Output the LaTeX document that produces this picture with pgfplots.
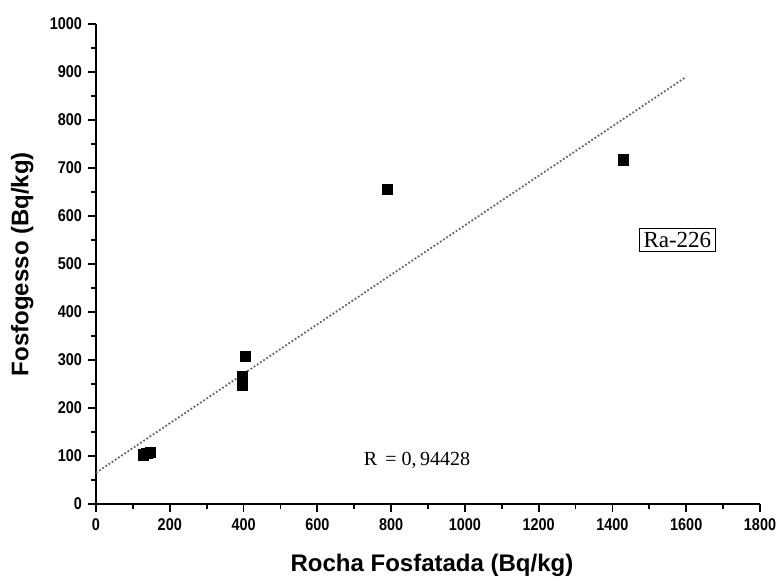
\documentclass[border=0pt]{standalone}
\usepackage{pgfplots}
\pgfplotsset{compat=1.18}
\usepackage{fontspec}
\setmainfont{Liberation Sans}
\newfontfamily\seriffont{Liberation Serif}

\begin{document}
\begin{tikzpicture}
\begin{axis}[
  width=332pt, height=240pt, scale only axis,
  xmin=0, xmax=1800, ymin=0, ymax=1000,
  axis lines=left,
  axis line style={-, line width=1.1pt},
  xtick={0,200,...,1800},
  ytick={0,100,...,1000},
  minor tick num=1,
  tick align=outside,
  major tick length=4pt, minor tick length=2.5pt,
  tick style={line width=0.9pt, black},
  tick label style={font=\fontsize{8.5}{9}\selectfont\bfseries, xscale=0.85},
  /pgf/number format/assume math mode=true,
  /pgf/number format/1000 sep={},
  xlabel={Rocha Fosfatada (Bq/kg)},
  ylabel={Fosfogesso (Bq/kg)},
  label style={font=\fontsize{12}{14}\selectfont\bfseries},
  xlabel style={at={(axis description cs:0.506,-0.127)}, anchor=center},
  ylabel style={at={(axis description cs:-0.111,0.5)}, anchor=center},
  clip=false,
]
% linear fit
\addplot[black!60, densely dotted, line width=0.9pt] coordinates {(0,65) (1600,890)};
% Ra-226 data
\addplot[only marks, mark=square*, mark size=2.6pt, black] coordinates {
  (128,102) (138,105) (148,108)
  (405,308) (397,265) (397,248)
  (790,656) (1430,717)
};
\node[draw, line width=0.5pt, inner sep=2pt, font=\seriffont\fontsize{11.5}{13}\selectfont]
  at (axis cs:1576,550) {Ra-226};
\node[font=\seriffont\fontsize{10}{12}\selectfont] at (axis cs:870,90) {R \,= 0,\,94428};
\coordinate (sw) at (rel axis cs:0,0);
\coordinate (ne) at (rel axis cs:1,1);
\end{axis}
\pgfresetboundingbox
\path[use as bounding box] ([xshift=-48pt,yshift=-38pt]sw) rectangle ([xshift=8pt,yshift=12pt]ne);
\end{tikzpicture}
\end{document}
